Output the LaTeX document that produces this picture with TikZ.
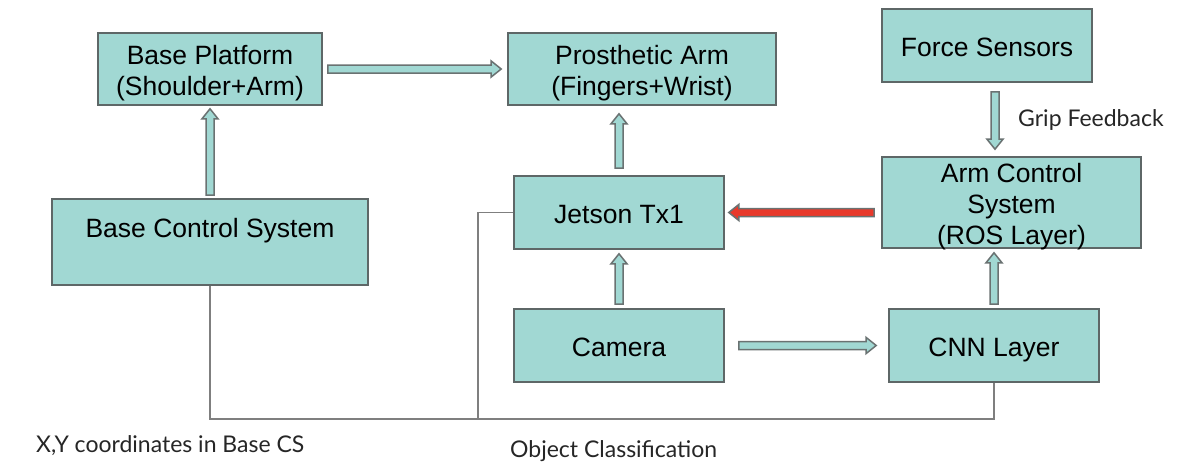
\documentclass[tikz,border=0pt]{standalone}
\usepackage{fontspec}
\setmainfont{Liberation Sans}
\newfontfamily\labelfont{Lato}
\usetikzlibrary{calc}
\definecolor{tealfill}{HTML}{A1D8D3}
\definecolor{boxline}{HTML}{5E6767}
\definecolor{arrline}{HTML}{6A7272}
\definecolor{redfill}{HTML}{E8392B}
\definecolor{connline}{HTML}{7F7F7F}
\tikzset{
  box/.style={draw=boxline, line width=1.6pt, fill=tealfill, inner sep=0pt,
    align=center, font=\fontsize{26.5}{31}\selectfont},
  one/.style={text height=24pt, text depth=2pt},
  high/.style={text height=2pt, text depth=11pt},
  two/.style={text height=55pt, text depth=2pt},
  three/.style={text height=86pt, text depth=2pt},
  conn/.style={draw=connline, line width=1.6pt},
  lbl/.style={anchor=west, inner sep=0pt, font=\labelfont\fontsize{23}{27}\selectfont, text=black!85},
  tealarrow/.style={fill=tealfill, draw=arrline, line width=1.5pt, line join=miter},
  redarrow/.style={fill=redfill, draw=arrline, line width=1.5pt, line join=miter},
}
% #1 style, #2 start, #3 end
\newcommand\blockarrow[3]{%
  \coordinate (ba-a) at #2;
  \coordinate (ba-b) at #3;
  \coordinate (ba-h) at ($(ba-b)!10pt!(ba-a)$);
  \path[#1] ($(ba-a)!4pt!90:(ba-b)$) -- ($(ba-h)!4pt!90:(ba-b)$) -- ($(ba-h)!8pt!90:(ba-b)$)
    -- (ba-b) -- ($(ba-h)!8pt!-90:(ba-b)$) -- ($(ba-h)!4pt!-90:(ba-b)$) -- ($(ba-a)!4pt!-90:(ba-b)$) -- cycle;
}
\begin{document}
\begin{tikzpicture}[x=1pt, y=-1pt]
\useasboundingbox[fill=white] (0,0) rectangle (1190,474);

\node[box, two, minimum width=224pt, minimum height=72pt] (bp) at (210,69) {Base Platform\\(Shoulder+Arm)};
\node[box, two, minimum width=268pt, minimum height=72pt] (pa) at (642,69) {Prosthetic Arm\\(Fingers+Wrist)};
\node[box, one, minimum width=210pt, minimum height=73pt] (fs) at (987,45.5) {Force Sensors};
\node[box, high, minimum width=316pt, minimum height=86pt] (bcs) at (210,242) {Base Control System};
\node[box, one, minimum width=210pt, minimum height=73pt] (jt) at (619,212.5) {Jetson Tx1};
\node[box, three, minimum width=259pt, minimum height=91pt] (acs) at (1011.5,202.5) {Arm Control\\System\\(ROS Layer)};
\node[box, one, minimum width=210pt, minimum height=73pt] (cam) at (619,345.5) {Camera};
\node[box, one, minimum width=210pt, minimum height=73pt] (cnn) at (994,345.5) {CNN Layer};

% plain connector lines
\draw[conn] (bcs.south) -- ++(0,133) -| (cnn.south);
\draw[conn] (jt.west) -- ++(-35,0) -- ++(0,205.5);

% block arrows
\blockarrow{tealarrow}{($(bp.east)+(5,0)$)}{($(pa.west)+(-6,0)$)}
\blockarrow{tealarrow}{($(bcs.north)+(0,-3)$)}{($(bp.south)+(0,3)$)}
\blockarrow{tealarrow}{($(jt.north)+(0,-7)$)}{($(jt.north |- pa.south)+(0,8)$)}
\blockarrow{tealarrow}{($(cam.north)+(0,-4)$)}{($(jt.south)+(0,4)$)}
\blockarrow{tealarrow}{($(cam.east)+(14,0)$)}{($(cnn.west)+(-12,0)$)}
\blockarrow{tealarrow}{($(cnn.north)+(0,-4)$)}{($(cnn.north |- acs.south)+(0,4)$)}
\blockarrow{tealarrow}{($(fs.south)+(8,9)$)}{($(fs.south |- acs.north)+(8,-7)$)}
\blockarrow{redarrow}{($(acs.west |- jt.east)+(-7,0)$)}{($(jt.east)+(4,0)$)}

% labels
\node[lbl] (gf) at (1018,120) {Grip Feedback};
\node[lbl] (xy) at (36,446) {X,Y coordinates in Base CS};
\node[lbl] (oc) at (510,451) {Object Classification};
\end{tikzpicture}
\end{document}
